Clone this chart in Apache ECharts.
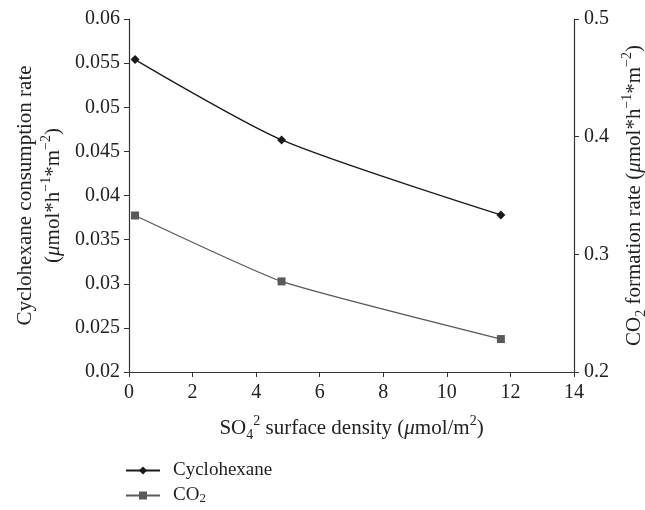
<!DOCTYPE html>
<html><head><meta charset="utf-8">
<script src="https://cdn.jsdelivr.net/npm/echarts@6/dist/echarts.min.js"></script>
<style>html,body{margin:0;padding:0;background:#fff}#c{width:645px;height:510px}</style>
</head><body><div id="c"></div>
<script>
const xValues = [0.19, 4.8, 11.7];
const cyclohexane = [0.0554, 0.0463, 0.0378];
const co2 = [0.333, 0.277, 0.228];
const seriesNames = ['Cyclohexane', 'CO2'];
const font = 'Liberation Serif';
const FS = 20;
const NFS = 21;
const rich = {
  t: {fontFamily: font, fontSize: NFS, color: '#222', lineHeight: 28},
  mu: {fontFamily: font, fontSize: NFS, color: '#222', lineHeight: 28, fontStyle: 'italic'},
  sub: {fontFamily: font, fontSize: 14, color: '#222', lineHeight: 16, verticalAlign: 'bottom'},
  sup: {fontFamily: font, fontSize: 14, color: '#222', lineHeight: 16, verticalAlign: 'top'}
};
const unitStr = '{t|(}{mu|\u03bc}{t|mol*h}{sup|\u22121}{t|*m}{sup|\u22122}{t|)}';
const chart = echarts.init(document.getElementById('c'));
const axisLine = {show: true, lineStyle: {color: '#333', width: 1.2}};
const tick = {show: true, inside: false, length: 5, lineStyle: {color: '#333'}};
const labelStyle = {fontFamily: font, fontSize: FS, color: '#222'};
chart.setOption({
  animation: false,
  textStyle: {fontFamily: font},
  grid: {left: 129, right: 71, top: 19, bottom: 138, containLabel: false, outerBoundsMode: 'none'},
  legend: {
    orient: 'vertical', left: 125, top: 461, padding: 0, itemWidth: 34, itemHeight: 10, itemGap: 6,
    textStyle: {fontFamily: font, fontSize: 19, color: '#222', padding: [0, 0, 0, 8], rich: {
      t: {fontFamily: font, fontSize: 19, color: '#222', lineHeight: 20},
      sub: {fontFamily: font, fontSize: 13, color: '#222', lineHeight: 14, verticalAlign: 'bottom'}
    }},
    formatter: n => n === 'CO2' ? '{t|CO}{sub|2}' : '{t|' + n + '}',
    data: seriesNames
  },
  xAxis: {
    type: 'value', min: 0, max: 14, interval: 2,
    name: '{t|SO}{sub|4}{sup|2}{t| surface density (}{mu|\u03bc}{t|mol/m}{sup|2}{t|)}',
    nameLocation: 'middle', nameGap: 42,
    nameTextStyle: {rich: rich},
    axisLine: axisLine, axisTick: tick, splitLine: {show: false},
    axisLabel: Object.assign({margin: 11}, labelStyle)
  },
  yAxis: [{
    type: 'value', min: 0.02, max: 0.06, interval: 0.005, position: 'left',
    name: '{t|Cyclohexane consumption rate}\n' + unitStr, nameLocation: 'middle', nameGap: 62,
    nameTextStyle: {rich: rich},
    axisLine: axisLine, axisTick: tick, splitLine: {show: false},
    axisLabel: Object.assign({margin: 9, formatter: v => String(+v.toFixed(3))}, labelStyle)
  }, {
    type: 'value', min: 0.2, max: 0.5, interval: 0.1, position: 'right',
    name: '{t|CO}{sub|2}{t| formation rate }' + unitStr, nameLocation: 'middle', nameGap: 46, nameRotate: 90,
    nameTextStyle: {rich: rich},
    axisLine: axisLine, axisTick: tick, splitLine: {show: false},
    axisLabel: Object.assign({margin: 10, formatter: v => String(+v.toFixed(1))}, labelStyle)
  }],
  series: [{
    name: seriesNames[0], type: 'line', yAxisIndex: 0, smooth: 0.25,
    data: xValues.map((x, i) => [x, cyclohexane[i]]),
    symbol: 'diamond', symbolSize: 9,
    lineStyle: {color: '#1a1a1a', width: 1.3}, itemStyle: {color: '#1a1a1a'}
  }, {
    name: seriesNames[1], type: 'line', yAxisIndex: 1, smooth: 0.15,
    data: xValues.map((x, i) => [x, co2[i]]),
    symbol: 'rect', symbolSize: 8,
    lineStyle: {color: '#5a5a5a', width: 1.3}, itemStyle: {color: '#5a5a5a'}
  }]
});
</script></body></html>
